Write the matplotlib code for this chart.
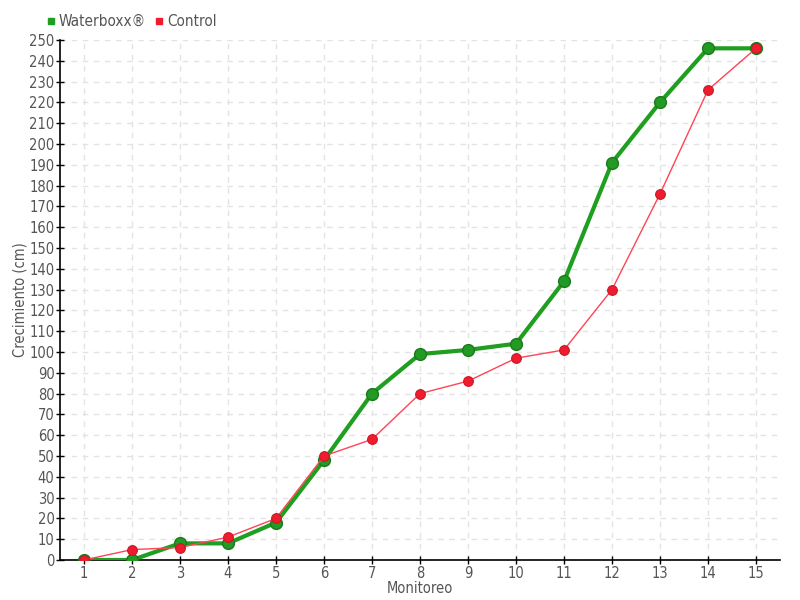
import matplotlib
matplotlib.use("Agg")
import matplotlib.pyplot as plt
from matplotlib.lines import Line2D

monitoreo = list(range(1, 16))
waterboxx = [0, 0, 8, 8, 18, 48, 80, 99, 101, 104, 134, 191, 220, 246, 246]
control = [0, 5, 6, 11, 20, 50, 58, 80, 86, 97, 101, 130, 176, 226, 246]
yticks = list(range(0, 251, 10))

plt.rcParams['font.family'] = ['DejaVu Sans']
fig = plt.figure(figsize=(8, 6), dpi=100)
ax = fig.add_axes([60/800, 40/600, 720/800, 520/600])

green = '#1f9e1f'
red = '#ee1c2e'
ax.plot(monitoreo, waterboxx, color=green, lw=3, marker='o', ms=8.5,
        mfc='#239a23', mec='#1b7a1b', mew=1, zorder=3)
ax.plot(monitoreo, control, color='#ff4455', lw=1, marker='o', ms=7,
        mfc=red, mec='#d01525', mew=0.8, zorder=4)

ax.set_xlim(0.5, 15.5)
ax.set_ylim(0, 250)
ax.set_xticks(monitoreo)
ax.set_yticks(yticks)
ax.grid(True, color='#e3e3e3', ls=(0, (4, 4)), lw=1)
ax.set_axisbelow(True)
for s in ['top', 'right']:
    ax.spines[s].set_visible(False)
ax.spines['left'].set_linewidth(1.2)
ax.spines['bottom'].set_linewidth(1.2)
ax.tick_params(direction='inout', length=6, width=1, labelsize=10.5,
               pad=1, colors='black')
ax.tick_params(labelcolor='#555555')
for lab in ax.get_xticklabels() + ax.get_yticklabels():
    lab.set_fontstretch('condensed')

ax.set_xlabel('Monitoreo', fontsize=10.5, color='#555555', labelpad=0, fontstretch='condensed')
ax.set_ylabel('Crecimiento (cm)', fontsize=10.5, color='#555555', labelpad=1, fontstretch='condensed')

handles = [Line2D([], [], ls='none', marker='s', ms=5, color=green),
           Line2D([], [], ls='none', marker='s', ms=5, color=red)]
fig.legend(handles, ['Waterboxx®', 'Control'], loc='upper left',
           bbox_to_anchor=(46/800, 1 - 14/600), ncol=2, frameon=False,
           handlelength=0.6, handletextpad=0.2, columnspacing=0.6,
           borderaxespad=0, borderpad=0,
           prop={'size': 11, 'stretch': 'condensed'}, labelcolor='#555555')

fig.savefig('out.png', dpi=100)
